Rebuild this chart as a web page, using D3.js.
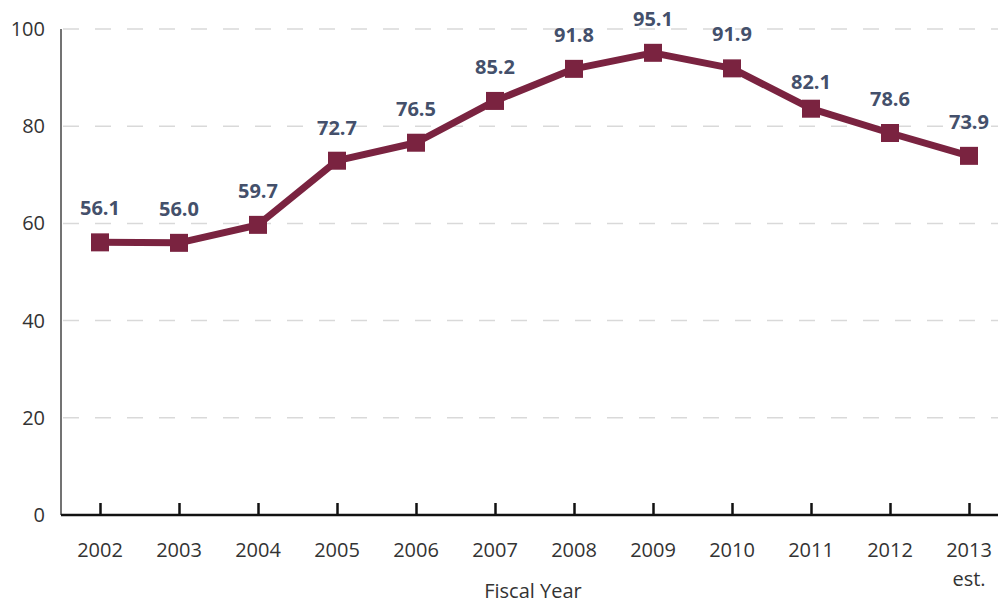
<!DOCTYPE html>
<html>
<head>
<meta charset="utf-8">
<script src="https://cdn.jsdelivr.net/npm/d3@7"></script>
<style>
  body { margin: 0; background: #fff; }
  svg { display: block; font-family: "Open Sans", "Noto Sans", sans-serif; }
</style>
</head>
<body>
<div id="chart"></div>
<script>
const years = ["2002", "2003", "2004", "2005", "2006", "2007", "2008", "2009", "2010", "2011", "2012", "2013"];
const yearLabels = ["2002", "2003", "2004", "2005", "2006", "2007", "2008", "2009", "2010", "2011", "2012", "2013|est."];
// plotted positions (2011 marker sits above its label value)
const values = [56.1, 56.0, 59.7, 72.9, 76.6, 85.2, 91.8, 95.1, 91.9, 83.6, 78.6, 73.9];
const valueLabels = ["56.1", "56.0", "59.7", "72.7", "76.5", "85.2", "91.8", "95.1", "91.9", "82.1", "78.6", "73.9"];
const yTicks = [0, 20, 40, 60, 80, 100];

const W = 998, H = 605;
const margin = {top: 29, left: 61};
const width = W - margin.left;
const plotH = 486;

const svg = d3.select("#chart").append("svg")
    .attr("width", W)
    .attr("height", H);
const g = svg.append("g")
    .attr("transform", `translate(${margin.left},${margin.top})`);

const x = d3.scalePoint().domain(years).range([39, 908]);
const y = d3.scaleLinear().domain([0, 100]).range([plotH, 0]);

// grid
g.selectAll(".grid")
    .data(yTicks.filter(d => d > 0))
    .enter().append("line")
    .attr("class", "grid")
    .attr("x1", 0).attr("x2", width)
    .attr("y1", d => y(d)).attr("y2", d => y(d))
    .attr("stroke", "#d9d9d9")
    .attr("stroke-width", 1.5)
    .attr("stroke-dasharray", "16,16")
    .attr("stroke-dashoffset", -2);

// y axis
const axisY = g.append("g")
    .call(d3.axisLeft(y).tickValues(yTicks).tickSize(0).tickPadding(16));
axisY.select(".domain").remove();
axisY.selectAll("text")
    .style("font-size", "20px")
    .style("fill", "#333")
    .style("font-family", "'Open Sans', 'Noto Sans', sans-serif");
g.append("line")
    .attr("x1", 0).attr("x2", 0)
    .attr("y1", 0).attr("y2", plotH)
    .attr("stroke", "#444").attr("stroke-width", 1.5);

// x axis
const axisX = g.append("g")
    .attr("transform", `translate(0,${plotH})`)
    .call(d3.axisBottom(x).tickSizeInner(-12).tickSizeOuter(0).tickFormat(() => ""));
axisX.select(".domain").remove();
axisX.selectAll(".tick line").attr("stroke", "#111").attr("stroke-width", 2.5);
g.append("line")
    .attr("x1", 0).attr("x2", width)
    .attr("y1", plotH).attr("y2", plotH)
    .attr("stroke", "#111").attr("stroke-width", 2.5);

const xLabels = g.append("g").selectAll("text")
    .data(years)
    .enter().append("text")
    .attr("x", d => x(d))
    .attr("y", plotH + 42)
    .attr("text-anchor", "middle")
    .style("font-size", "20px")
    .style("fill", "#333");
xLabels.each(function(d, i) {
    const parts = yearLabels[i].split("|");
    parts.forEach((p, j) => {
        d3.select(this).append("tspan")
            .attr("x", x(d))
            .attr("dy", j === 0 ? 0 : 29)
            .text(p);
    });
});

g.append("text")
    .attr("x", 472)
    .attr("y", plotH + 83)
    .attr("text-anchor", "middle")
    .style("font-size", "20px")
    .style("fill", "#333")
    .text("Fiscal Year");

// line
const line = d3.line()
    .x((d, i) => x(years[i]))
    .y(d => y(d));
g.append("path")
    .datum(values)
    .attr("d", line)
    .attr("fill", "none")
    .attr("stroke", "#7a2340")
    .attr("stroke-width", 7)
    .attr("stroke-linejoin", "round");

g.selectAll(".marker")
    .data(values)
    .enter().append("rect")
    .attr("class", "marker")
    .attr("x", (d, i) => x(years[i]) - 9)
    .attr("y", d => y(d) - 9)
    .attr("width", 18).attr("height", 18)
    .attr("fill", "#7a2340");

g.selectAll(".vlabel")
    .data(valueLabels)
    .enter().append("text")
    .attr("class", "vlabel")
    .attr("x", (d, i) => x(years[i]))
    .attr("y", d => y(+d) - 27)
    .attr("text-anchor", "middle")
    .style("font-size", "20px")
    .style("font-weight", "bold")
    .style("fill", "#44506b")
    .text(d => d);
</script>
</body>
</html>
